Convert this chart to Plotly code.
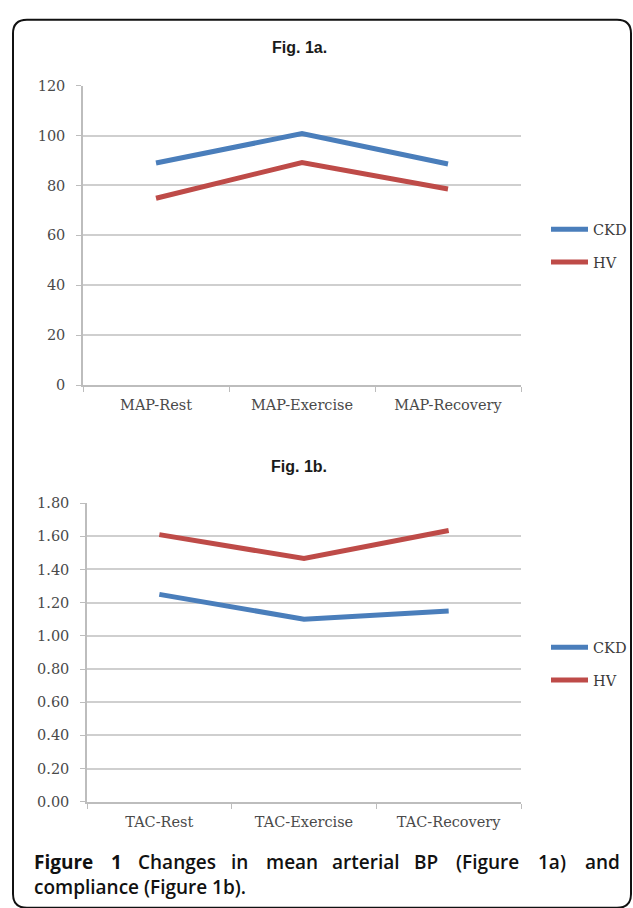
import plotly.graph_objects as go

W, H = 633, 908

# ---- data ----
map_categories = ["MAP-Rest", "MAP-Exercise", "MAP-Recovery"]
map_ckd = [89.0, 100.8, 88.6]
map_hv = [74.9, 89.2, 78.6]

tac_categories = ["TAC-Rest", "TAC-Exercise", "TAC-Recovery"]
tac_ckd = [1.25, 1.10, 1.15]
tac_hv = [1.61, 1.466, 1.635]

series_names = ["CKD", "HV"]
series_colors = ["#4A7EBB", "#BE4B48"]

title_a = "Fig. 1a."
title_b = "Fig. 1b."
caption_line1 = ["Figure", "1", "Changes", "in", "mean", "arterial", "BP", "(Figure", "1a)", "and"]
caption_line2 = "compliance (Figure 1b)."


def px(x):
    return x / W


def py(y):
    return 1 - y / H


fig = go.Figure()

for vals, name, color in zip([map_ckd, map_hv], series_names, series_colors):
    fig.add_trace(go.Scatter(x=map_categories, y=vals, mode="lines", name=name,
                             line=dict(color=color, width=5),
                             xaxis="x", yaxis="y", legend="legend",
                             legendgroup="a" + name))
for vals, name, color in zip([tac_ckd, tac_hv], series_names, series_colors):
    fig.add_trace(go.Scatter(x=tac_categories, y=vals, mode="lines", name=name,
                             line=dict(color=color, width=5),
                             xaxis="x2", yaxis="y2", legend="legend2",
                             legendgroup="b" + name))

grid_c = "#cfcfcf"
axis_c = "#bdbdbd"
tick_font = dict(family="DejaVu Serif", size=14.5, color="#4a4a4a")

common_x = dict(type="category", range=[-0.5, 2.5], showline=True, linecolor=axis_c,
                linewidth=1.5, ticks="outside", tickson="boundaries", ticklen=5,
                tickcolor=axis_c, tickwidth=1, showgrid=False, zeroline=False,
                tickfont=tick_font, ticklabelstandoff=6, fixedrange=True)
common_y = dict(showline=True, linecolor=axis_c, linewidth=1.5, ticks="outside",
                ticklen=5, tickcolor=axis_c, tickwidth=1, showgrid=True,
                gridcolor=grid_c, gridwidth=1.5, zeroline=False, tickfont=tick_font,
                ticklabelstandoff=8, fixedrange=True)

legend_font = dict(family="DejaVu Serif", size=14.5, color="#3a3a3a")

fig.update_layout(
    width=W, height=H,
    margin=dict(l=0, r=0, t=0, b=0),
    paper_bgcolor="white", plot_bgcolor="white",
    xaxis=dict(domain=[px(83), px(521)], anchor="y", **common_x),
    yaxis=dict(domain=[py(384), py(79)], anchor="x", range=[0, 120], dtick=20,
               tickformat="d", **common_y),
    xaxis2=dict(domain=[px(87), px(521)], anchor="y2", **common_x),
    yaxis2=dict(domain=[py(808), py(504)], anchor="x2", range=[0, 1.8], dtick=0.2,
                tickformat=".2f", **common_y),
    legend=dict(x=px(546), y=py(242), xanchor="left", yanchor="middle",
                font=legend_font, bgcolor="rgba(0,0,0,0)", tracegroupgap=11, itemwidth=37),
    legend2=dict(x=px(546), y=py(667.5), xanchor="left", yanchor="middle",
                 font=legend_font, bgcolor="rgba(0,0,0,0)", tracegroupgap=11, itemwidth=37),
    showlegend=True,
)

# titles
title_font = dict(family="Liberation Sans", size=16, color="#1a1a1a", weight="bold")
fig.add_annotation(text=title_a, x=px(299), y=py(40), xref="paper", yref="paper",
                   showarrow=False, xanchor="center", yanchor="middle", font=title_font)
fig.add_annotation(text=title_b, x=px(299), y=py(467), xref="paper", yref="paper",
                   showarrow=False, xanchor="center", yanchor="middle", font=title_font)

# caption (justified first line)
cap_x = [32, 109, 136, 229, 264, 330, 412, 454, 536, 583]
for i, (word, x) in enumerate(zip(caption_line1, cap_x)):
    fig.add_annotation(text=word, x=px(x), y=py(869), xref="paper", yref="paper",
                       showarrow=False, xanchor="left", yanchor="middle",
                       font=dict(family="Open Sans", size=19, color="#111111",
                                 weight=700 if i < 2 else 600))
fig.add_annotation(text=caption_line2, x=px(32), y=py(895), xref="paper", yref="paper",
                   showarrow=False, xanchor="left", yanchor="middle",
                   font=dict(family="Open Sans", size=19, color="#111111", weight=600))

# rounded border
L, R, T, B, r = 13, 631, 12, 916, 14
path = (f"M {px(L)},{py(B - r)} L {px(L)},{py(T + r)} Q {px(L)},{py(T)} {px(L + r)},{py(T)} "
        f"L {px(R - r)},{py(T)} Q {px(R)},{py(T)} {px(R)},{py(T + r)} "
        f"L {px(R)},{py(B - r)} Q {px(R)},{py(B)} {px(R - r)},{py(B)} "
        f"L {px(L + r)},{py(B)} Q {px(L)},{py(B)} {px(L)},{py(B - r)} Z")
fig.add_shape(type="path", path=path, xref="paper", yref="paper",
              line=dict(color="#111111", width=2), fillcolor="rgba(0,0,0,0)", layer="above")

fig.write_html("out.html", config={"displayModeBar": False},
               post_script="document.body.style.margin='0';document.body.style.overflow='hidden';")
